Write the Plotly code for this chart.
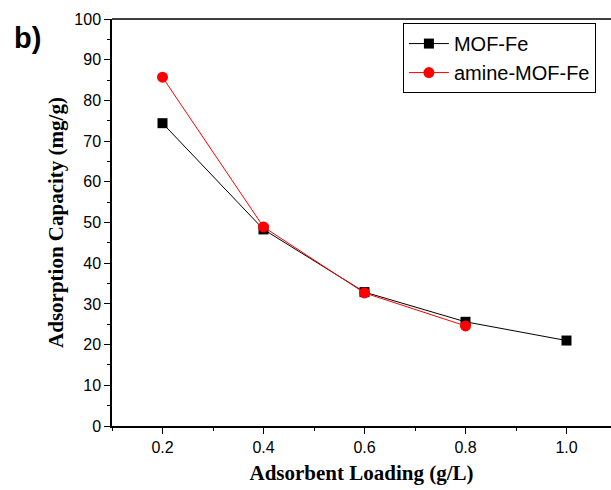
import plotly.graph_objects as go

loading = [0.2, 0.4, 0.6, 0.8, 1.0]
mof_fe = [74.4, 48.3, 32.9, 25.6, 21.0]
amine_loading = [0.2, 0.4, 0.6, 0.8]
amine_mof_fe = [85.7, 48.9, 32.7, 24.6]
x_ticks = [0.2, 0.4, 0.6, 0.8, 1.0]
y_ticks = list(range(0, 101, 10))

fig = go.Figure()
fig.add_trace(go.Scatter(x=loading, y=mof_fe, mode="lines+markers", name="MOF-Fe",
                         line=dict(color="black", width=1),
                         marker=dict(symbol="square", size=10, color="black")))
fig.add_trace(go.Scatter(x=amine_loading, y=amine_mof_fe, mode="lines+markers", name="amine-MOF-Fe",
                         line=dict(color="red", width=1),
                         marker=dict(symbol="circle", size=11, color="red")))

fig.update_layout(
    width=611, height=490,
    margin=dict(l=112, r=0, t=19, b=64),
    plot_bgcolor="white", paper_bgcolor="white",
    font=dict(family="Liberation Sans, Arial", color="black", size=16),
    legend=dict(x=0.583, y=0.99, xanchor="left", yanchor="top",
                bordercolor="black", borderwidth=1, bgcolor="white",
                font=dict(size=20, family="Liberation Sans, Arial"),
                tracegroupgap=0, itemwidth=40),
    annotations=[dict(text="<b>b)</b>", xref="paper", yref="paper",
                      x=(12 - 112) / 499, y=(426 - 38) / 407, xanchor="left", yanchor="middle",
                      showarrow=False, font=dict(size=29, family="Liberation Sans, Arial"))],
)

fig.update_xaxes(range=[0.1, 0.1 + 499/505], tickvals=x_ticks, tickformat=".1f",
                 showline=True, linecolor="black", linewidth=1.5, mirror=False,
                 ticks="outside", ticklen=6, tickcolor="black", showgrid=False, zeroline=False,
                 minor=dict(dtick=0.1, tick0=0.1, ticks="outside", ticklen=3, tickcolor="black"),
                 title=dict(text="<b>Adsorbent Loading (g/L)</b>",
                            font=dict(family="Liberation Serif, Times New Roman", size=21), standoff=10))
fig.update_yaxes(range=[0, 100], tickvals=y_ticks,
                 showline=True, linecolor="black", linewidth=1.5,
                 ticks="outside", ticklen=6, tickcolor="black", showgrid=False, zeroline=False,
                 minor=dict(dtick=5, tick0=0, ticks="outside", ticklen=3, tickcolor="black"),
                 title=dict(text="<b>Adsorption Capacity (mg/g)</b>",
                            font=dict(family="Liberation Serif, Times New Roman", size=21), standoff=5))
# top frame line
fig.add_shape(type="line", xref="paper", yref="paper", x0=0, x1=1, y0=1, y1=1,
              line=dict(color="black", width=1.5))

fig.write_html("out.html")
